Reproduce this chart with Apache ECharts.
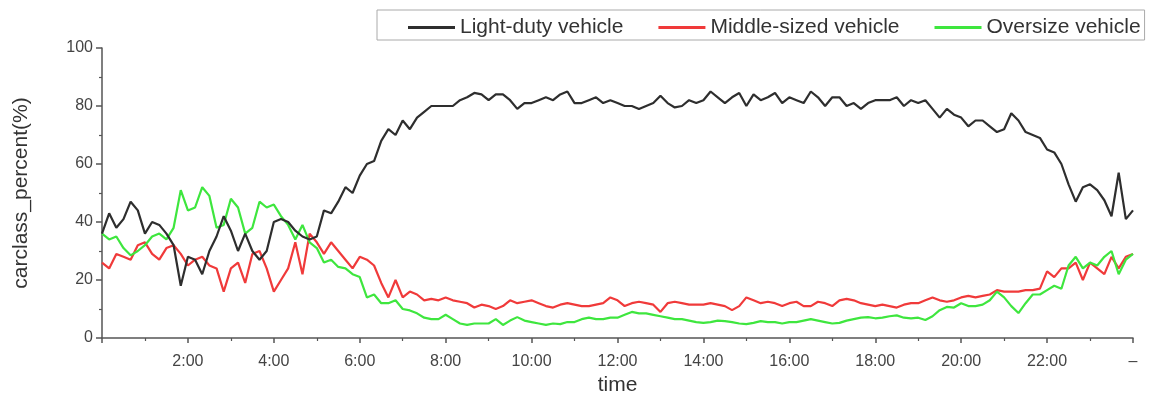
<!DOCTYPE html>
<html>
<head>
<meta charset="utf-8">
<script src="https://cdn.jsdelivr.net/npm/echarts@6/dist/echarts.min.js"></script>
<style>
html,body{margin:0;padding:0;background:#fff;}
#chart{width:1151px;height:403px;}
</style>
</head>
<body>
<div id="chart"></div>
<script>
// Sampling step: 10 minutes, expressed in hours
const STEP_HOURS = 1 / 6;

const seriesNames = ['Light-duty vehicle', 'Middle-sized vehicle', 'Oversize vehicle'];

const xTickLabels = ['', '2:00', '4:00', '6:00', '8:00', '10:00', '12:00', '14:00', '16:00', '18:00', '20:00', '22:00', '–'];

const lightDuty = [
  36, 43, 38, 41, 47, 44, 36, 40, 39, 36, 32, 18, 28, 27, 22, 30, 35, 42, 37, 30,
  36, 30, 27, 30, 40, 41, 40, 37, 35, 34, 35, 44, 43, 47, 52, 50, 56, 60, 61, 68,
  72, 70, 75, 72, 76, 78, 80, 80, 80, 80, 82, 83, 84.5, 84, 82, 84, 84, 82, 79, 81,
  81, 82, 83, 82, 84, 85, 81, 81, 82, 83, 81, 82, 81, 80, 80, 79, 80, 81, 83.5, 81,
  79.5, 80, 82, 81, 82, 85, 83, 81, 83, 84.5, 80, 84, 82, 83, 84.5, 81, 83, 82, 81, 85,
  83, 80, 83, 83, 80, 81, 79, 81, 82, 82, 82, 83, 80, 82, 81, 82, 79, 76, 79, 77,
  76, 73, 75, 75, 73, 71, 72, 77.5, 75, 71, 70, 69, 65, 64, 60, 53, 47, 52, 53, 51,
  47.5, 42, 57, 41, 44
];

const middleSized = [
  26, 24, 29, 28, 27, 32, 33, 29, 27, 31, 32, 29, 25, 27, 28, 25, 24, 16, 24, 26,
  19, 29, 30, 24, 16, 20, 24, 33, 22, 36, 33, 29, 33, 30, 27, 24, 28, 27, 25, 19,
  14, 20, 14, 16, 15, 13, 13.5, 13, 14, 13, 12.5, 12, 10.5, 11.5, 11, 10, 11, 13, 12, 12.5,
  13, 12, 11, 10.5, 11.5, 12, 11.5, 11, 11, 11.5, 12, 14, 13, 11, 12, 12.5, 12, 11.5, 9, 12,
  12.5, 12, 11.5, 11.5, 11.5, 12, 11.5, 11, 9.6, 11, 14, 13, 12, 12.5, 12, 11, 12, 12.5, 11, 11,
  12.5, 12, 11, 13, 13.5, 13, 12, 11.5, 11, 11.5, 11, 10.5, 11.5, 12, 12, 13, 14, 13, 12.5, 13,
  14, 14.5, 14, 14.5, 15, 16.5, 16, 16, 16, 16.5, 16.5, 17, 23, 21, 24, 24, 26, 20, 26, 24,
  22, 28, 24, 28, 29
];

const oversize = [
  36, 34, 35, 31, 28.5, 30, 32, 35, 36, 34, 38, 51, 44, 45, 52, 49, 38, 39, 48, 45,
  36, 38, 47, 45, 46, 42, 39, 34, 39, 33, 31, 26, 27, 24.5, 24, 22, 21, 14, 15, 12,
  12, 13, 10, 9.5, 8.5, 7, 6.5, 6.5, 8, 6.5, 5, 4.5, 5, 5, 5, 6.5, 4.5, 6, 7.2, 6,
  5.5, 5, 4.5, 5, 4.8, 5.5, 5.5, 6.5, 7, 6.5, 6.5, 7, 7, 8, 9, 8.5, 8.5, 8, 7.5, 7,
  6.5, 6.5, 6, 5.5, 5.2, 5.5, 6, 5.8, 5.5, 5, 4.8, 5.2, 5.8, 5.5, 5.5, 5, 5.5, 5.5, 6, 6.5,
  6, 5.5, 5, 5.2, 6, 6.5, 7, 7.2, 6.8, 7, 7.5, 7.8, 7, 6.8, 7, 6.2, 7.5, 9.6, 10.7, 10.5,
  12, 11, 11, 11.5, 13, 16, 14, 11, 8.6, 12, 15, 15, 16.5, 18, 17, 25, 28, 24, 26, 25,
  28, 30, 22, 27, 29
];

const yTicks = { min: 0, max: 100, interval: 20 };
const colors = ['#2e2e2e', '#f03a3a', '#3ee63e'];

function toPairs(arr) {
  return arr.map((v, i) => [i * STEP_HOURS, v]);
}

const chart = echarts.init(document.getElementById('chart'), null, { renderer: 'canvas' });

const axisTextColor = '#444';
const axisLineColor = '#555';
const fontFam = 'Liberation Sans, Arial, sans-serif';

chart.setOption({
  animation: false,
  backgroundColor: '#fff',
  color: colors,
  legend: {
    left: 377,
    top: 10,
    width: 800,
    padding: [7, 4, 2, 31],
    borderColor: '#aaa',
    borderWidth: 1,
    itemWidth: 47,
    itemHeight: 3,
    itemGap: 35,
    icon: 'rect',
    textStyle: { fontSize: 21, color: '#333', fontFamily: fontFam },
    data: seriesNames
  },
  grid: { left: 102, right: 18, top: 48, bottom: 65, containLabel: false },
  xAxis: {
    type: 'value',
    min: 0,
    max: 24,
    interval: 2,
    name: 'time',
    nameLocation: 'middle',
    nameGap: 34,
    nameTextStyle: { fontSize: 21, color: '#333', fontFamily: fontFam },
    axisLine: { show: true, onZero: false, lineStyle: { color: axisLineColor, width: 1.5 } },
    axisTick: { show: true, inside: false, length: 5, lineStyle: { color: axisLineColor, width: 1.5 } },
    minorTick: { show: true, splitNumber: 2, length: 3, lineStyle: { color: axisLineColor, width: 1.2 } },
    splitLine: { show: false },
    axisLabel: {
      margin: 16,
      fontSize: 16,
      color: axisTextColor,
      fontFamily: fontFam,
      showMinLabel: true,
      showMaxLabel: true,
      formatter: function (v) {
        const idx = Math.round(v / 2);
        return xTickLabels[idx] !== undefined ? xTickLabels[idx] : '';
      }
    }
  },
  yAxis: {
    type: 'value',
    min: yTicks.min,
    max: yTicks.max,
    interval: yTicks.interval,
    name: 'carclass_percent(%)',
    nameLocation: 'middle',
    nameGap: 70,
    nameTextStyle: { fontSize: 21, color: '#333', fontFamily: fontFam },
    axisLine: { show: true, lineStyle: { color: axisLineColor, width: 1.5 } },
    axisTick: { show: true, inside: false, length: 6, lineStyle: { color: axisLineColor, width: 1.5 } },
    minorTick: { show: true, splitNumber: 2, length: 3, lineStyle: { color: axisLineColor, width: 1.2 } },
    splitLine: { show: false },
    axisLabel: { margin: 9, fontSize: 16, color: axisTextColor, fontFamily: fontFam }
  },
  series: [
    { name: seriesNames[0], type: 'line', data: toPairs(lightDuty), symbol: 'none', lineStyle: { width: 2.2, color: colors[0] }, itemStyle: { color: colors[0] }, z: 3 },
    { name: seriesNames[1], type: 'line', data: toPairs(middleSized), symbol: 'none', lineStyle: { width: 2.2, color: colors[1] }, itemStyle: { color: colors[1] }, z: 2 },
    { name: seriesNames[2], type: 'line', data: toPairs(oversize), symbol: 'none', lineStyle: { width: 2.2, color: colors[2] }, itemStyle: { color: colors[2] }, z: 2 }
  ]
});
</script>
</body>
</html>
